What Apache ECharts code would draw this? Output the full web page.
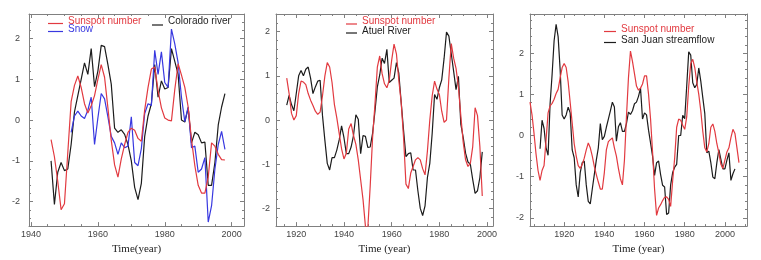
<!DOCTYPE html>
<html><head><meta charset="utf-8">
<script src="https://cdn.jsdelivr.net/npm/echarts@6/dist/echarts.min.js"></script>
<style>html,body{margin:0;padding:0;background:#fff}#c{width:761px;height:260px}</style>
</head><body><div id="c"></div>
<script>
// ---------- Panel 1: Colorado river ----------
const p1Start = 1946;
const p1Sunspot = [-0.48,-0.9,-1.5,-2.2,-2.05,-0.8,0.45,0.85,1.08,0.8,0.4,0.17,0.35,0.6,1.0,1.36,1.05,0.3,-0.5,-1.1,-1.4,-0.95,-0.6,-0.3,-0.2,-0.25,-0.45,-0.52,0.25,0.8,1.25,1.3,0.72,0.3,0.05,0.0,-0.02,0.75,1.38,1.1,0.8,0.32,-0.48,-1.12,-1.6,-1.79,-1.79,-1.4,-0.56,-0.64,-0.84,-0.97,-0.98];
const p1Colorado = [-1.0,-2.07,-1.28,-1.04,-1.24,-1.2,-0.6,0.2,0.6,1.0,1.4,1.12,1.75,0.82,1.2,1.83,1.8,1.36,0.88,-0.2,-0.3,-0.24,-0.35,-0.6,-1.0,-1.65,-1.95,-1.55,-0.4,0.1,0.4,1.36,0.56,0.96,0.76,0.8,1.75,1.44,1.12,0.0,-0.05,0.3,-0.56,-0.3,-0.36,-0.56,-0.54,-1.6,-1.6,-1.04,-0.12,0.32,0.65];
const p1SnowStart = 1952;
const p1Snow = [-0.3,0.1,0.22,0.1,0.04,0.24,0.56,-0.6,0.05,0.65,0.52,0.08,-0.4,-0.56,-0.84,-0.56,-0.68,-0.64,0.08,-1.04,-1.12,-0.7,0.16,0.4,0.36,1.71,1.12,1.67,0.92,0.8,2.23,1.87,1.4,0.56,-0.04,0.32,-0.68,-0.64,-1.28,-1.2,-0.92,-2.5,-2.1,-1.2,-0.6,-0.28,-0.72];
const p1XTicks = [1940,1960,1980,2000];
const p1YTicks = [-2,-1,0,1,2];

// ---------- Panel 2: Atuel River ----------
const p2Start = 1916;
const p2Sunspot = [0.95,0.6,0.15,0.0,0.1,0.6,0.88,0.86,0.8,0.6,0.45,0.33,0.2,0.13,0.18,0.55,1.0,1.3,1.2,0.85,0.35,0.05,-0.3,-0.65,-0.88,-0.75,-0.2,-0.08,-0.35,-0.55,-0.9,-1.35,-1.8,-2.4,-2.45,-1.5,-0.4,0.36,1.2,1.45,1.05,0.82,0.73,0.9,1.35,1.72,1.5,0.9,0.4,-0.4,-1.45,-1.55,-1.2,-1.05,-0.9,-0.85,-0.9,-1.1,-1.24,-0.7,0.0,0.55,0.88,0.7,0.58,0.2,-0.05,0.0,0.95,1.73,1.4,1.17,0.75,0.1,-0.5,-0.9,-1.05,-0.98,-0.6,0.28,0.1,-0.6,-1.72];
const p2Atuel = [0.34,0.56,0.35,0.21,0.6,1.0,1.12,1.0,1.15,1.2,0.95,0.6,0.75,0.88,0.9,0.1,-0.46,-0.98,-1.13,-0.85,-0.85,-0.68,-0.45,-0.13,-0.4,-0.76,-0.76,-0.61,-0.35,0.12,0.02,-0.76,-0.35,-0.37,-0.62,-0.61,-0.3,0.2,0.75,1.02,1.4,1.28,1.6,0.85,0.9,0.95,1.3,1.06,0.4,-0.24,-0.83,-0.76,-0.74,-1.13,-1.13,-1.6,-2.0,-2.16,-1.94,-1.3,-0.98,-0.3,0.58,0.47,0.73,0.91,1.4,1.99,1.9,1.5,1.1,0.69,0.99,-0.09,-0.39,-0.75,-0.95,-1.0,-1.35,-1.66,-1.6,-1.3,-0.72];
const p2XTicks = [1920,1940,1960,1980,2000];
const p2YTicks = [-2,-1,0,1,2];

// ---------- Panel 3: San Juan streamflow ----------
const p3SunStart = 1903;
const p3Sunspot = [0.81,0.5,0.05,-0.45,-0.85,-1.09,-0.85,-0.73,-0.1,0.55,0.72,0.78,0.88,1.02,1.12,1.4,1.65,1.75,1.65,1.3,0.8,0.3,-0.2,-0.5,-0.73,-0.8,-0.7,-0.55,-0.35,-0.18,-0.3,-0.5,-0.75,-0.95,-1.13,-1.3,-1.3,-0.9,-0.35,-0.15,-0.1,-0.06,-0.3,-0.5,-0.8,-1.05,-1.2,-0.6,0.45,1.4,2.05,1.8,1.5,1.2,1.1,1.15,1.25,1.45,1.45,1.0,0.4,-0.4,-1.3,-1.94,-1.76,-1.68,-1.58,-1.5,-1.49,-1.55,-1.72,-1.1,-0.55,0.2,0.4,0.37,0.25,0.15,0.45,1.2,1.75,1.85,1.65,1.3,1.0,0.6,0.1,-0.3,-0.4,-0.2,0.2,0.28,0.1,-0.2,-0.42,-0.7,-0.8,-0.6,-0.4,-0.3,-0.05,0.15,0.05,-0.3,-0.66];
const p3FlowStart = 1908;
const p3SanJuan = [-0.32,0.37,0.17,-0.3,-0.48,0.77,1.48,2.3,2.7,2.4,1.6,0.5,0.4,0.5,0.69,0.55,-0.35,-0.54,-1.2,-1.49,-0.9,-0.66,-0.62,-1.2,-1.6,-1.66,-1.3,-0.95,-0.6,-0.3,0.29,-0.1,-0.02,0.2,0.4,0.6,0.81,0.69,-0.14,0.21,0.31,0.1,0.1,0.29,0.57,0.51,0.6,0.77,0.81,0.95,1.15,0.4,0.55,0.5,0.13,-0.18,-0.5,-0.97,-0.66,-0.62,-0.95,-1.21,-1.25,-1.92,-1.88,-1.2,-0.9,-0.77,-0.7,0.0,0.0,0.49,0.41,1.2,2.03,1.95,1.28,1.16,1.24,1.64,1.32,0.92,0.53,-0.42,-0.38,-0.66,-1.01,-1.05,-0.66,-0.34,-0.58,-0.81,-0.81,-0.6,-0.42,-1.09,-0.93,-0.81];
const p3XTicks = [1920,1940,1960,1980,2000];
const p3YTicks = [-2,-1,0,1,2];

const legendTexts = ['Sunspot number','Colorado river','Snow','Atuel River','San Juan streamflow'];
const axisTitles = ['Time(year)','Time (year)','Time (year)'];

// ---------- build ----------
const RED = '#e23a40', BLACK = '#1c1c1c', BLUE = '#3838e0', FRAME = '#808080';
function pairs(start, vals){ return vals.map((v,i)=>[start+i, v]); }

function xAxes(gi, min, max, ticks, name){
  const common = {type:'value', gridIndex:gi, min:min, max:max, minInterval:20, maxInterval:20, splitNumber:4,
    axisLine:{show:true,onZero:false,lineStyle:{color:FRAME,width:1}},
    axisTick:{show:true,inside:true,length:4,lineStyle:{color:FRAME}},
    minorTick:{show:true,splitNumber:4,length:2,lineStyle:{color:FRAME}},
    splitLine:{show:false}, minorSplitLine:{show:false}};
  return [
    Object.assign({}, common, {position:'bottom', name:name, nameLocation:'middle', nameGap:12,
      nameTextStyle:{fontFamily:'Liberation Serif', fontSize:11, color:'#222'},
      axisLabel:{show:true, margin:4, color:'#444', fontSize:9, fontFamily:'Liberation Sans', hideOverlap:false,
        formatter: v => ticks.includes(Math.round(v*1000)/1000) ? String(v) : ''}}),
    Object.assign({}, common, {position:'top', axisLabel:{show:false}})
  ];
}
function yAxes(gi, min, max, ticks, margin){
  const common = {type:'value', gridIndex:gi, min:min, max:max, minInterval:1, maxInterval:1, splitNumber:5,
    axisLine:{show:true,onZero:false,lineStyle:{color:FRAME,width:1}},
    axisTick:{show:true,inside:true,length:4,lineStyle:{color:FRAME}},
    minorTick:{show:true,splitNumber:5,length:2,lineStyle:{color:FRAME}},
    splitLine:{show:false}, minorSplitLine:{show:false}};
  return [
    Object.assign({}, common, {position:'left',
      axisLabel:{show:true, margin:margin, color:'#444', fontSize:9, fontFamily:'Liberation Sans', hideOverlap:false,
        formatter: v => ticks.includes(Math.round(v*1000)/1000) ? String(Math.round(v)) : ''}}),
    Object.assign({}, common, {position:'right', axisLabel:{show:false}})
  ];
}
function line(gi, data, color, z){
  return {type:'line', xAxisIndex:2*gi, yAxisIndex:2*gi, data:data, showSymbol:false, symbol:'none',
    lineStyle:{color:color, width:1.2}, itemStyle:{color:color}, z:z, silent:true, clip:true};
}
function legItem(x, yLine, yText, color, text, len){
  return [
    {type:'rect', z:100, shape:{x:x, y:yLine-0.6, width:len, height:1.2}, style:{fill:color, stroke:null}},
    {type:'text', z:100, x:x+len+5, y:yText, style:{text:text, fill:color, font:'10px "Liberation Sans"', verticalAlign:'middle', align:'left'}}
  ];
}

const option = {
  animation:false,
  backgroundColor:'#fff',
  grid:[
    {left:29, top:14, width:215, height:218},
    {left:276, top:14, width:217, height:218},
    {left:530, top:14, width:217, height:218}
  ],
  xAxis:[].concat(
    xAxes(0, 1939.4, 2003.7, p1XTicks, axisTitles[0]),
    xAxes(1, 1911.5, 2002.5, p2XTicks, axisTitles[1]),
    xAxes(2, 1903, 2011, p3XTicks, axisTitles[2])
  ),
  yAxis:[].concat(
    yAxes(0, -2.6, 2.6, p1YTicks, 9),
    yAxes(1, -2.4, 2.4, p2YTicks, 6),
    yAxes(2, -2.2, 2.95, p3YTicks, 6)
  ),
  series:[
    line(0, pairs(p1Start, p1Colorado), BLACK, 2),
    line(0, pairs(p1SnowStart, p1Snow), BLUE, 3),
    line(0, pairs(p1Start, p1Sunspot), RED, 4),
    line(1, pairs(p2Start, p2Atuel), BLACK, 2),
    line(1, pairs(p2Start, p2Sunspot), RED, 3),
    line(2, pairs(p3FlowStart, p3SanJuan), BLACK, 2),
    line(2, pairs(p3SunStart, p3Sunspot), RED, 3)
  ],
  graphic:[].concat(
    legItem(48, 23.5, 21.5, RED, legendTexts[0], 15),
    legItem(152, 25, 21.5, BLACK, legendTexts[1], 11),
    legItem(48, 31.5, 29.5, BLUE, legendTexts[2], 15),
    legItem(346, 24, 21.5, RED, legendTexts[0], 11),
    legItem(346, 33, 31.5, BLACK, legendTexts[3], 11),
    legItem(604, 31.5, 29.5, RED, legendTexts[0], 12),
    legItem(604, 42.5, 40.5, BLACK, legendTexts[4], 12)
  )
};
const chart = echarts.init(document.getElementById('c'), null, {renderer:'canvas'});
chart.setOption(option);
</script>
</body></html>
